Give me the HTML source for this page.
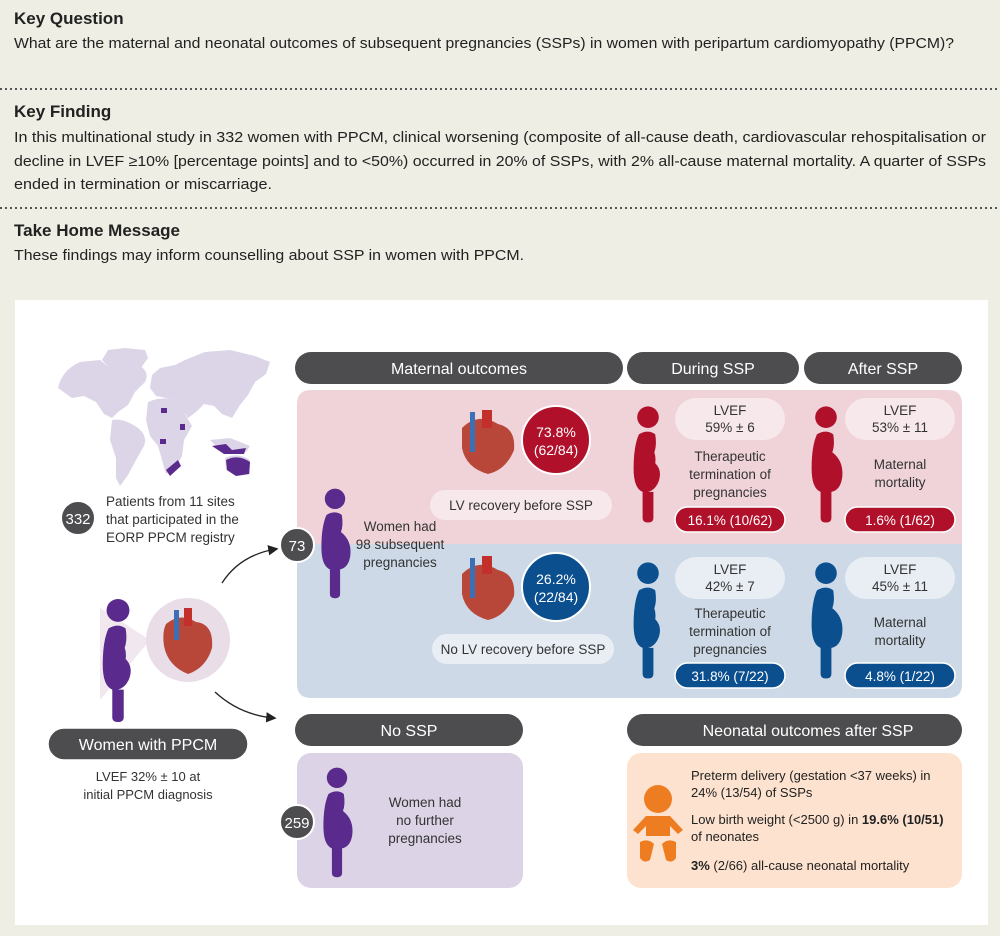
<!DOCTYPE html>
<html><head><meta charset="utf-8"><style>
html,body{margin:0;padding:0;background:#eeeee4;}
svg{display:block;font-family:"Liberation Sans",sans-serif;}
</style></head><body>
<svg width="1000" height="936" viewBox="0 0 1000 936" xmlns="http://www.w3.org/2000/svg">
<defs>
<symbol id="fig" viewBox="0 0 40 130">
<circle cx="20" cy="13" r="12"/>
<path d="M10 32 Q20 26 28 32 Q30 44 27 52 Q40 62 38 80 Q36 94 26 96 L26 125 Q26 130 20 130 Q14 130 14 125 L14 96 Q4 92 4 70 Q4 45 10 32Z"/>
</symbol>
<symbol id="figp" viewBox="0 0 40 130">
<circle cx="20" cy="13" r="12"/>
<path d="M10 32 Q20 26 28 32 Q30 44 27 52 Q29 58 28 64 Q36 72 32 84 Q28 94 20 96 L26 96 L26 125 Q26 130 20 130 Q14 130 14 125 L14 96 Q4 92 4 70 Q4 45 10 32Z"/>
</symbol>
<marker id="ar" markerWidth="8" markerHeight="8" refX="6" refY="4" orient="auto"><path d="M0 0 L8 4 L0 8Z" fill="#222"/></marker>
</defs>
<rect width="1000" height="936" fill="#eeeee4"/>
<g fill="#222">
<text x="14" y="24" font-size="17" font-weight="bold">Key Question</text>
<text x="14" y="48" font-size="15" textLength="940" lengthAdjust="spacingAndGlyphs">What are the maternal and neonatal outcomes of subsequent pregnancies (SSPs) in women with peripartum cardiomyopathy (PPCM)?</text>
<text x="14" y="117" font-size="17" font-weight="bold">Key Finding</text>
<text x="14" y="142" font-size="15" textLength="972" lengthAdjust="spacingAndGlyphs">In this multinational study in 332 women with PPCM, clinical worsening (composite of all-cause death, cardiovascular rehospitalisation or</text>
<text x="14" y="166" font-size="15" textLength="972" lengthAdjust="spacingAndGlyphs">decline in LVEF ≥10% [percentage points] and to &lt;50%) occurred in 20% of SSPs, with 2% all-cause maternal mortality. A quarter of SSPs</text>
<text x="14" y="189" font-size="15" textLength="258" lengthAdjust="spacingAndGlyphs">ended in termination or miscarriage.</text>
<text x="14" y="236" font-size="17" font-weight="bold">Take Home Message</text>
<text x="14" y="260" font-size="15" textLength="510" lengthAdjust="spacingAndGlyphs">These findings may inform counselling about SSP in women with PPCM.</text>
</g>
<line x1="0" y1="89" x2="1000" y2="89" stroke="#555" stroke-width="2" stroke-dasharray="2 3"/>
<line x1="0" y1="208" x2="1000" y2="208" stroke="#555" stroke-width="2" stroke-dasharray="2 3"/>
<rect x="15" y="300" width="973" height="625" fill="#fff"/>

<!-- world map approximation -->
<g fill="#dcd5e8">
<path d="M58 388 Q62 370 80 362 L100 360 L110 368 L125 362 L140 366 Q150 372 145 382 L135 392 L128 405 L118 412 L112 418 L104 414 L96 402 L84 396 L72 398 Z"/>
<path d="M102 360 L108 350 L125 348 L145 350 L148 358 L138 372 L125 380 L115 374 Z"/>
<path d="M112 420 Q124 418 138 428 Q148 436 144 446 L136 460 L128 475 L120 486 L116 478 L116 458 L110 440 Z"/>
<path d="M152 375 L160 368 L175 365 L185 360 L205 352 L230 350 L255 356 L270 362 L266 374 L255 382 L248 395 L240 405 L232 418 L222 414 L214 406 L204 404 L196 412 L188 418 L182 410 L176 400 L166 398 L156 396 L150 388 Z"/>
<path d="M148 402 Q162 396 176 400 L186 416 L192 426 L184 440 L182 456 L174 470 L166 474 L162 460 L158 446 L150 436 L146 420 Z"/>
<path d="M210 440 L230 438 L250 446 L246 452 L222 452 Z"/>
<path d="M225 458 Q238 452 250 460 L250 474 L236 476 L226 470 Z"/>
</g>
<g fill="#5a2a8c">
<rect x="161" y="408" width="6" height="5"/><rect x="180" y="424" width="5" height="6"/><rect x="160" y="439" width="6" height="5"/>
<path d="M166 470 L178 460 L181 466 L170 476Z"/>
<path d="M212 446 L226 444 L232 450 L246 448 L244 454 L224 454 Z"/>
<path d="M226 460 Q238 454 250 462 L249 474 L236 476 L227 470 Z"/>
</g>

<!-- 332 -->
<circle cx="78" cy="518" r="17" fill="#4d4d4f" stroke="#fff" stroke-width="2"/>
<text x="78" y="524" font-size="15" fill="#fff" text-anchor="middle">332</text>
<g font-size="13.5" fill="#333">
<text x="106" y="506">Patients from 11 sites</text>
<text x="106" y="524">that participated in the</text>
<text x="106" y="542">EORP PPCM registry</text>
</g>

<!-- arrows -->
<path d="M222 583 Q240 555 276 549" fill="none" stroke="#222" stroke-width="1.3" marker-end="url(#ar)"/>
<path d="M215 692 Q240 715 274 718" fill="none" stroke="#222" stroke-width="1.3" marker-end="url(#ar)"/>
<path d="M386 492 Q398 478 416 474" fill="none" stroke="#222" stroke-width="1.3" marker-end="url(#ar)"/>
<path d="M383 598 Q395 612 414 616" fill="none" stroke="#222" stroke-width="1.3" marker-end="url(#ar)"/>

<!-- women with PPCM -->
<circle cx="188" cy="640" r="42" fill="#e9dde8"/>
<path d="M150 640 L100 608 L100 700 Z" fill="#e9dde8" opacity="0.7"/>
<use href="#figp" x="98" y="598" width="40" height="124" fill="#5a2a8c"/>
<g transform="translate(188,642)">
<path d="M-22 -18 Q-8 -30 8 -20 Q26 -18 24 6 Q18 26 0 32 Q-20 24 -24 4 Q-26 -10 -22 -18Z" fill="#b8473a"/>
<rect x="-14" y="-32" width="5" height="30" fill="#3b6fb6"/><rect x="-4" y="-34" width="8" height="18" fill="#c3302c"/>
</g>
<rect x="48" y="728" width="200" height="32" rx="16" fill="#4d4d4f" stroke="#fff" stroke-width="1.5"/>
<text x="148" y="750" font-size="16" fill="#fff" text-anchor="middle">Women with PPCM</text>
<text x="148" y="781" font-size="13" fill="#333" text-anchor="middle">LVEF 32% ± 10 at</text>
<text x="148" y="799" font-size="13" fill="#333" text-anchor="middle">initial PPCM diagnosis</text>

<!-- headers -->
<g fill="#4d4d4f">
<rect x="295" y="352" width="328" height="32" rx="16"/>
<rect x="627" y="352" width="172" height="32" rx="16"/>
<rect x="804" y="352" width="158" height="32" rx="16"/>
<rect x="295" y="714" width="228" height="32" rx="16"/>
<rect x="627" y="714" width="335" height="32" rx="16"/>
</g>
<g fill="#fff" font-size="16" text-anchor="middle">
<text x="459" y="374">Maternal outcomes</text>
<text x="713" y="374">During SSP</text>
<text x="883" y="374">After SSP</text>
<text x="409" y="736">No SSP</text>
<text x="808" y="736">Neonatal outcomes after SSP</text>
</g>

<!-- pink / blue panels -->
<path d="M311 390 H948 Q962 390 962 404 V544 H297 V404 Q297 390 311 390Z" fill="#efd3d9"/>
<path d="M297 544 H962 V684 Q962 698 948 698 H311 Q297 698 297 684Z" fill="#cdd9e6"/>
<use href="#fig" x="318" y="481" width="34" height="124" fill="#5a2a8c"/>
<circle cx="297" cy="545" r="17" fill="#4d4d4f" stroke="#fff" stroke-width="2"/>
<text x="297" y="551" font-size="15" fill="#fff" text-anchor="middle">73</text>
<g font-size="13.5" fill="#333" text-anchor="middle">
<text x="400" y="531">Women had</text>
<text x="400" y="549">98 subsequent</text>
<text x="400" y="567">pregnancies</text>
</g>

<!-- hearts -->
<g transform="translate(488,442)">
<path d="M-26 -14 Q-10 -30 10 -18 Q28 -14 26 8 Q18 28 0 32 Q-22 26 -26 6 Z" fill="#b8473a"/>
<rect x="-18" y="-30" width="5" height="40" fill="#3b6fb6"/><rect x="-6" y="-32" width="10" height="18" fill="#c3302c"/>
</g>
<g transform="translate(488,588)">
<path d="M-26 -14 Q-10 -30 10 -18 Q28 -14 26 8 Q18 28 0 32 Q-22 26 -26 6 Z" fill="#b8473a"/>
<rect x="-18" y="-30" width="5" height="40" fill="#3b6fb6"/><rect x="-6" y="-32" width="10" height="18" fill="#c3302c"/>
</g>
<circle cx="556" cy="440" r="34" fill="#b0102a" stroke="#fff" stroke-width="2"/>
<text x="556" y="437" font-size="14" fill="#fff" text-anchor="middle">73.8%</text>
<text x="556" y="455" font-size="14" fill="#fff" text-anchor="middle">(62/84)</text>
<circle cx="556" cy="587" r="34" fill="#0b4f8f" stroke="#fff" stroke-width="2"/>
<text x="556" y="584" font-size="14" fill="#fff" text-anchor="middle">26.2%</text>
<text x="556" y="602" font-size="14" fill="#fff" text-anchor="middle">(22/84)</text>
<rect x="430" y="490" width="182" height="30" rx="15" fill="#f7e8eb"/>
<text x="521" y="510" font-size="13.5" fill="#333" text-anchor="middle">LV recovery before SSP</text>
<rect x="432" y="634" width="182" height="30" rx="15" fill="#e8eef4"/>
<text x="523" y="654" font-size="13.5" fill="#333" text-anchor="middle">No LV recovery before SSP</text>

<!-- figures -->
<use href="#figp" x="630" y="402" width="36" height="124" fill="#b0102a"/>
<use href="#fig" x="808" y="402" width="36" height="124" fill="#b0102a"/>
<use href="#figp" x="630" y="558" width="36" height="124" fill="#0b4f8f"/>
<use href="#fig" x="808" y="558" width="36" height="124" fill="#0b4f8f"/>

<g fill="#f7e8eb"><rect x="675" y="398" width="110" height="42" rx="21"/><rect x="845" y="398" width="110" height="42" rx="21"/></g>
<g fill="#e8eef4"><rect x="675" y="557" width="110" height="42" rx="21"/><rect x="845" y="557" width="110" height="42" rx="21"/></g>
<g font-size="13.5" fill="#333" text-anchor="middle">
<text x="730" y="415">LVEF</text><text x="730" y="432">59% ± 6</text>
<text x="900" y="415">LVEF</text><text x="900" y="432">53% ± 11</text>
<text x="730" y="574">LVEF</text><text x="730" y="591">42% ± 7</text>
<text x="900" y="574">LVEF</text><text x="900" y="591">45% ± 11</text>
<text x="730" y="461">Therapeutic</text><text x="730" y="479">termination of</text><text x="730" y="497">pregnancies</text>
<text x="900" y="469">Maternal</text><text x="900" y="487">mortality</text>
<text x="730" y="618">Therapeutic</text><text x="730" y="636">termination of</text><text x="730" y="654">pregnancies</text>
<text x="900" y="627">Maternal</text><text x="900" y="645">mortality</text>
</g>
<g stroke="#fff" stroke-width="1.5">
<rect x="675" y="507" width="110" height="25" rx="12.5" fill="#b0102a"/>
<rect x="845" y="507" width="110" height="25" rx="12.5" fill="#b0102a"/>
<rect x="675" y="663" width="110" height="25" rx="12.5" fill="#0b4f8f"/>
<rect x="845" y="663" width="110" height="25" rx="12.5" fill="#0b4f8f"/>
</g>
<g font-size="13.5" fill="#fff" text-anchor="middle">
<text x="730" y="525">16.1% (10/62)</text><text x="900" y="525">1.6% (1/62)</text>
<text x="730" y="681">31.8% (7/22)</text><text x="900" y="681">4.8% (1/22)</text>
</g>

<!-- No SSP -->
<rect x="297" y="753" width="226" height="135" rx="14" fill="#ddd3e6"/>
<use href="#fig" x="320" y="760" width="34" height="124" fill="#5a2a8c"/>
<circle cx="297" cy="822" r="17" fill="#4d4d4f" stroke="#fff" stroke-width="2"/>
<text x="297" y="828" font-size="15" fill="#fff" text-anchor="middle">259</text>
<g font-size="13.5" fill="#333" text-anchor="middle">
<text x="425" y="807">Women had</text><text x="425" y="825">no further</text><text x="425" y="843">pregnancies</text>
</g>

<!-- Neonatal -->
<rect x="627" y="753" width="335" height="135" rx="14" fill="#fde3cf"/>
<g fill="#ee7d22">
<circle cx="658" cy="799" r="14"/>
<path d="M633 830 L646 816 H670 L683 830 L678 834 L670 826 V836 H646 V826 L638 834Z"/>
<path d="M640 842 Q648 838 654 844 L650 860 Q644 864 640 858Z"/>
<path d="M676 842 Q668 838 662 844 L666 860 Q672 864 676 858Z"/>
</g>
<g font-size="13" fill="#222">
<text x="691" y="780">Preterm delivery (gestation &lt;37 weeks) in</text>
<text x="691" y="797">24% (13/54) of SSPs</text>
<text x="691" y="824">Low birth weight (&lt;2500 g) in <tspan font-weight="bold">19.6% (10/51)</tspan></text>
<text x="691" y="841">of neonates</text>
<text x="691" y="870"><tspan font-weight="bold">3%</tspan> (2/66) all-cause neonatal mortality</text>
</g>
</svg>
</body></html>
